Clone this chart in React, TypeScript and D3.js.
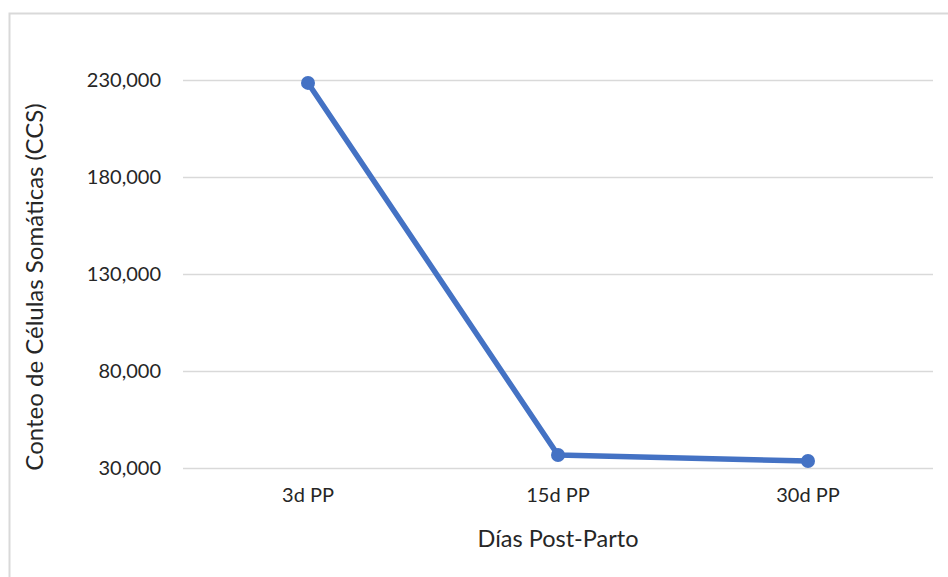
import { useEffect, useRef } from 'react';
import * as d3 from 'd3';

const categories = ['3d PP', '15d PP', '30d PP'];
const values = [228500, 36700, 33600];
const yTicks = [30000, 80000, 130000, 180000, 230000];

const W = 948;
const H = 577;
const FONT = 'Lato, "Open Sans", sans-serif';

export default function App() {
    const svgRef = useRef<SVGSVGElement>(null);

    useEffect(() => {
        if (!svgRef.current) return;
        const svg = d3.select(svgRef.current);
        svg.selectAll('*').remove();

        const margin = { top: 80, right: 15, bottom: 109, left: 183 };
        const innerWidth = W - margin.left - margin.right;
        const innerHeight = H - margin.top - margin.bottom;

        // chart frame
        svg.append('rect')
            .attr('x', 9.5)
            .attr('y', 13.5)
            .attr('width', W)
            .attr('height', H)
            .attr('fill', 'white')
            .attr('stroke', '#d9d9d9')
            .attr('stroke-width', 2);

        const g = svg
            .append('g')
            .attr('transform', `translate(${margin.left},${margin.top})`);

        const x = d3.scaleBand().domain(categories).range([0, innerWidth]);
        const y = d3
            .scaleLinear()
            .domain([30000, 230000])
            .range([innerHeight, 0]);

        // gridlines
        g.append('g')
            .call(
                d3
                    .axisLeft(y)
                    .tickValues(yTicks)
                    .tickSize(-innerWidth)
                    .tickFormat(() => '')
            )
            .call((a) => a.select('.domain').remove())
            .call((a) =>
                a.selectAll('.tick line').attr('stroke', '#d9d9d9').attr('stroke-width', 1.5)
            );

        // y tick labels
        g.append('g')
            .call(
                d3
                    .axisLeft(y)
                    .tickValues(yTicks)
                    .tickSize(0)
                    .tickPadding(22)
                    .tickFormat((d) => d3.format(',')(d as number))
            )
            .call((a) => a.select('.domain').remove())
            .call((a) =>
                a
                    .selectAll('.tick text')
                    .attr('fill', '#262626')
                    .attr('font-size', '20px')
                    .attr('font-family', FONT)
            );

        // x tick labels
        g.append('g')
            .attr('transform', `translate(0,${innerHeight})`)
            .call(d3.axisBottom(x).tickSize(0).tickPadding(20))
            .call((a) => a.select('.domain').remove())
            .call((a) =>
                a
                    .selectAll('.tick text')
                    .attr('fill', '#262626')
                    .attr('font-size', '20px')
                    .attr('font-family', FONT)
            );

        const cx = (c: string) => (x(c) || 0) + x.bandwidth() / 2;

        const line = d3
            .line<number>()
            .x((_, i) => cx(categories[i]))
            .y((d) => y(d));

        g.append('path')
            .datum(values)
            .attr('fill', 'none')
            .attr('stroke', '#4472c4')
            .attr('stroke-width', 5.5)
            .attr('stroke-linejoin', 'round')
            .attr('d', line);

        g.selectAll('.dot')
            .data(values)
            .enter()
            .append('circle')
            .attr('class', 'dot')
            .attr('cx', (_, i) => cx(categories[i]))
            .attr('cy', (d) => y(d))
            .attr('r', 7)
            .attr('fill', '#4472c4');

        // axis titles
        svg.append('text')
            .attr('x', margin.left + innerWidth / 2)
            .attr('y', 547)
            .attr('text-anchor', 'middle')
            .attr('fill', '#262626')
            .attr('font-size', '23.5px')
            .attr('font-family', FONT)
            .text('Días Post-Parto');

        svg.append('text')
            .attr('transform', `translate(43,${287}) rotate(-90)`)
            .attr('text-anchor', 'middle')
            .attr('fill', '#262626')
            .attr('font-size', '24px')
            .attr('font-family', FONT)
            .text('Conteo de Células Somáticas (CCS)');
    }, []);

    return (
        <div style={{ position: 'absolute', left: 0, top: 0 }}>
            <svg ref={svgRef} width={W} height={H} style={{ display: 'block' }} />
        </div>
    );
}
